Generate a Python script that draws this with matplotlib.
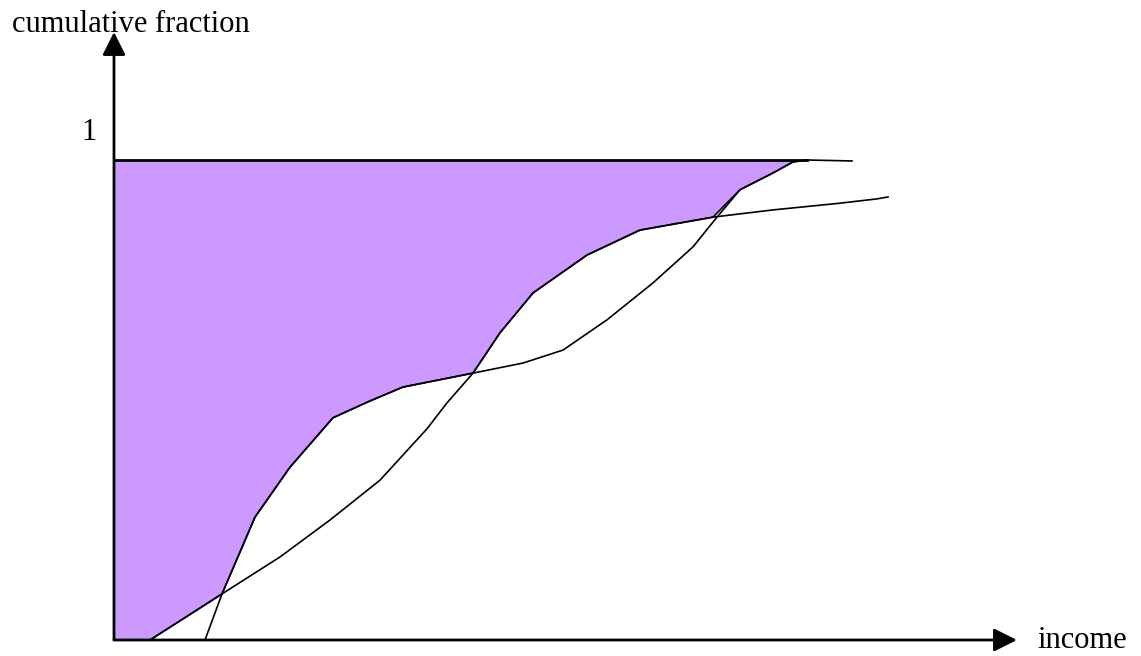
import matplotlib
matplotlib.use('Agg')
import matplotlib.pyplot as plt
import numpy as np

plt.rcParams['font.family'] = ['Liberation Serif', 'DejaVu Serif']

# distribution S: starts early, shallow, then steep in the middle, ends below 1
s_x = [0.36, 1.08, 1.66, 2.16, 2.66, 3.13, 3.33, 3.59, 3.86, 4.19, 4.73, 5.26, 5.99, 6.59, 7.26, 7.63, 7.74]
s_y = [0.0, 0.096, 0.173, 0.250, 0.333, 0.440, 0.494, 0.556, 0.640, 0.723, 0.802, 0.854, 0.881, 0.896, 0.910, 0.919, 0.923]

# distribution T: starts later, steep, flat middle, reaches 1
t_x = [0.91, 1.08, 1.41, 1.76, 2.19, 2.56, 2.89, 3.59, 4.09, 4.49, 4.93, 5.39, 5.79, 6.03, 6.26, 6.59, 6.79, 6.93, 7.38]
t_y = [0.0, 0.096, 0.256, 0.360, 0.463, 0.498, 0.527, 0.556, 0.577, 0.604, 0.667, 0.744, 0.819, 0.881, 0.938, 0.973, 0.996, 1.0, 0.998]

# shaded area: between 1 and the upper envelope of the two curves
fill_x = [0.0, 0.36, 1.08, 1.41, 1.76, 2.19, 2.56, 2.89, 3.59, 3.86, 4.19, 4.73, 5.26, 5.99, 6.26, 6.59, 6.79, 6.93, 0.0]
fill_y = [0.0, 0.0, 0.096, 0.256, 0.360, 0.463, 0.498, 0.527, 0.556, 0.640, 0.723, 0.802, 0.854, 0.881, 0.938, 0.973, 0.996, 1.0, 1.0]

fig = plt.figure(figsize=(11.41, 6.56), dpi=100)
ax = fig.add_axes([0, 0, 1, 1])
ax.set_xlim(-1.14, 10.27)
ax.set_ylim(-16 / 480, 640 / 480)
ax.axis('off')

ax.fill(fill_x, fill_y, color='#CC99FF', lw=0)
ax.plot(fill_x[1:-1], fill_y[1:-1], color='black', lw=1.2)
ax.plot([0, 6.93], [1, 1], color='black', lw=2)

ax.plot(s_x, s_y, color='black', lw=1.2)
ax.plot(t_x, t_y, color='black', lw=1.2)

# axes with arrow heads
arr = dict(arrowstyle='-|>,head_length=0.7,head_width=0.35', mutation_scale=20,
           lw=2, color='black', shrinkA=0, shrinkB=0)
ax.annotate('', xy=(0, 608 / 480), xytext=(0, 0), arrowprops=arr)
ax.annotate('', xy=(9.03, 0), xytext=(0, 0), arrowprops=arr)

ax.text(-1.02, 608 / 480, 'cumulative fraction', fontsize=22, va='baseline', ha='left')
ax.text(-0.17, 500 / 480, '1', fontsize=22, va='baseline', ha='right')
ax.text(9.23, -8 / 480, 'income', fontsize=22, va='baseline', ha='left')

fig.savefig('out.png', dpi=100)
